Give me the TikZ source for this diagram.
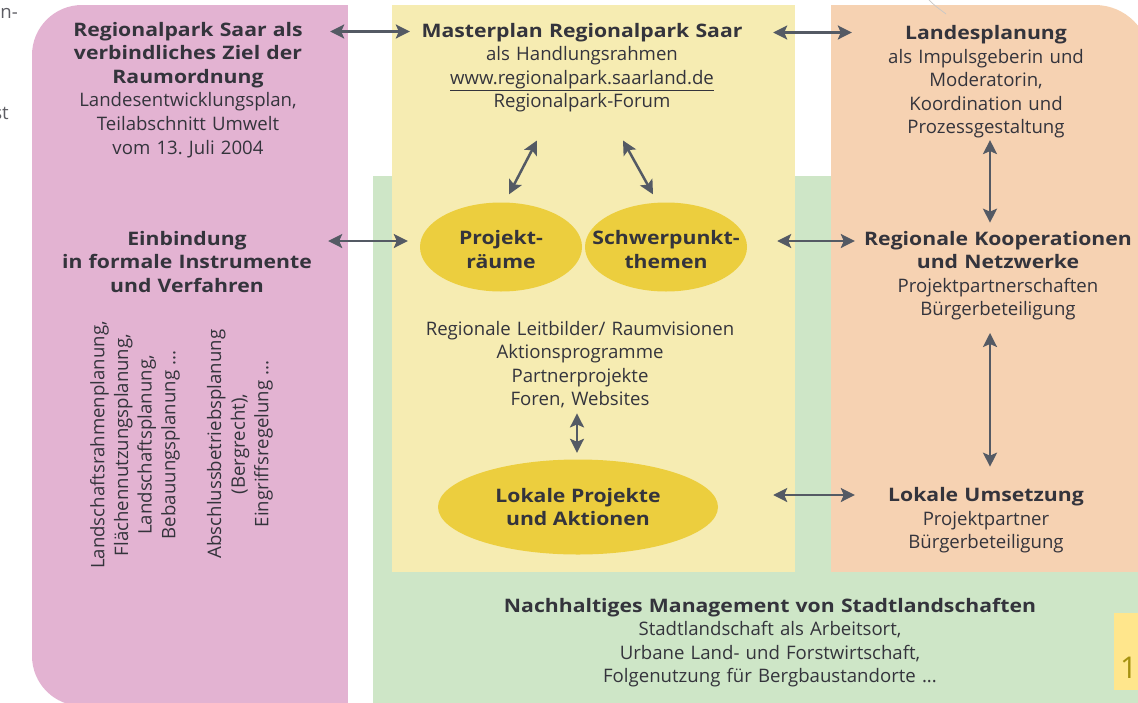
\documentclass[tikz,border=0pt]{standalone}
\usepackage{fontspec}
\setmainfont{Open Sans}[BoldFeatures={FakeStretch=1.14}]
\usetikzlibrary{arrows.meta,shapes.geometric}
\frenchspacing

\definecolor{pinkbg}{RGB}{227,179,210}
\definecolor{yellowbg}{RGB}{246,236,178}
\definecolor{orangebg}{RGB}{246,210,178}
\definecolor{greenbg}{RGB}{206,230,199}
\definecolor{gold}{RGB}{236,206,62}
\definecolor{ink}{RGB}{52,52,60}
\definecolor{arrowc}{RGB}{84,90,100}
\definecolor{tagyellow}{RGB}{255,230,140}
\definecolor{tagink}{RGB}{165,145,15}

\begin{document}
\begin{tikzpicture}[
  x=1pt, y=-1pt,
  every node/.style={text=ink, inner sep=0pt, font=\fontsize{18.6}{23.6}\selectfont},
  body/.style={align=center, anchor=base},
  head/.style={font=\fontsize{18.6}{23.6}\selectfont\bfseries},
  blob/.style={ellipse, fill=gold, minimum width=162pt, minimum height=89pt},
  link/.style={{Stealth[length=14pt,width=14pt,inset=3pt]}-{Stealth[length=14pt,width=14pt,inset=3pt]},
               line width=2.5pt, draw=arrowc},
]

% ---------- frame ----------
\useasboundingbox (0,0) rectangle (1138,702);
\clip (0,0) rectangle (1138,702);

% ---------- panels ----------
\fill[greenbg] (373,176) rectangle (1140,704);
\fill[pinkbg, rounded corners=50pt] (32,5) rectangle (200,706);
\fill[pinkbg] (150,5) rectangle (348,706);
\fill[yellowbg] (392,5) rectangle (795,572);
\fill[orangebg] (831,5) rectangle (1000,572);
\fill[orangebg, rounded corners=55pt] (950,5) rectangle (1150,300);
\fill[orangebg] (950,150) rectangle (1150,572);

% page tag and cut-off words at the edges
\fill[tagyellow] (1114,613) rectangle (1140,690);
\node[text=tagink, font=\fontsize{30}{30}\selectfont, anchor=base west] (page) at (1120,678) {16};
\node[text=ink!80, anchor=base east] (fragA) at (18,18) {n-};
\node[text=ink!80, anchor=base east] (fragB) at (9,119) {st};
\draw[black!22, line width=0.7pt] (927,-2) .. controls (934,5) .. (946,14);

% ---------- left column ----------
\node[body, text width=284pt] (ziel) at (188,36)
  {\textbf{Regionalpark Saar als}\\\textbf{verbindliches Ziel der}\\\textbf{Raumordnung}\\
   Landesentwicklungsplan,\\Teilabschnitt Umwelt\\vom 13. Juli 2004};
\node[body, head, text width=282pt] (einb) at (187,245)
  {Einbindung\\in formale Instrumente\\und Verfahren};
\node[align=center, rotate=90] (plan1) at (135,445)
  {Landschaftsrahmenplanung,\\Flächennutzungsplanung,\\Landschaftsplanung,\\Bebauungsplanung ...};
\node[align=center, rotate=90] (plan2) at (240,444)
  {Abschlussbetriebsplanung\\(Bergrecht),\\Eingriffsregelung ...};

% ---------- middle column ----------
\node[body, text width=344pt] (master) at (582,37)
  {\textbf{Masterplan Regionalpark Saar}\\als Handlungsrahmen\\
   \underline{www.regionalpark.saarland.de}\\Regionalpark-Forum};

\node[blob] (raeume) at (501,247) {};
\node[blob] (schwer) at (666,247) {};
\node[head, align=center] (raeumeTxt) at ([yshift=-2.5pt]raeume.center) {Projekt-\\räume};
\node[head, align=center] (schwerTxt) at ([yshift=-2.5pt]schwer.center) {Schwerpunkt-\\themen};

\node[body, text width=340pt] (leit) at (580,335)
  {Regionale Leitbilder/ Raumvisionen\\Aktionsprogramme\\Partnerprojekte\\Foren, Websites};

\node[blob, minimum width=280pt, minimum height=95pt] (lokal) at (578,507) {};
\node[head, align=center] (lokalTxt) at (lokal) {Lokale Projekte\\und Aktionen};

% ---------- right column ----------
\node[body, text width=268pt] (landes) at (986,39.5)
  {\textbf{Landesplanung}\\als Impulsgeberin und\\Moderatorin,\\Koordination und\\Prozessgestaltung};
\node[body, text width=286pt] (koop) at (998,245)
  {\textbf{Regionale Kooperationen}\\\textbf{und Netzwerke}\\Projektpartnerschaften\\Bürgerbeteiligung};
\node[body, text width=262pt] (umsetz) at (986,501.5)
  {\textbf{Lokale Umsetzung}\\Projektpartner\\Bürgerbeteiligung};

% ---------- bottom band ----------
\node[body, text width=600pt] (nachh) at (770,612)
  {\textbf{Nachhaltiges Management von Stadtlandschaften}\\Stadtlandschaft als Arbeitsort,\\
   Urbane Land- und Forstwirtschaft,\\Folgenutzung für Bergbaustandorte ...};

% ---------- links ----------
% across the columns
\draw[link] ([yshift=4.5pt]ziel.base east) -- ([yshift=4.5pt]ziel.base east -| master.west);
\draw[link] ([xshift=19pt,yshift=4.5pt]master.base east) -- ([yshift=4.5pt]master.base east -| landes.west);
\draw[link, shorten >=12pt] ([yshift=4pt]einb.base east) -- ([yshift=4pt]einb.base east -| raeume.west);
\draw[link, shorten <=30pt] ([yshift=4pt]koop.base west -| schwer.east) -- ([yshift=4pt]koop.base west);
\draw[link, shorten <=55pt] ([yshift=6.5pt]umsetz.base west -| lokal.east) -- ([yshift=6.5pt]umsetz.base west);

% inside the masterplan
\draw[link] ([shift={(-45pt,-28pt)}]master.south) -- ([shift={(8pt,8pt)}]raeume.north);
\draw[link] ([shift={(41pt,-28pt)}]master.south) -- ([shift={(-13pt,8pt)}]schwer.north);
\draw[link, shorten <=5pt, shorten >=6.5pt] ([xshift=-3pt]leit.south) -- ([xshift=-3pt]leit.south |- lokal.north);

% down the right column
\draw[link, shorten <=1.5pt, shorten >=8pt] ([xshift=4pt]landes.south) -- ([xshift=4pt]landes.south |- koop.north);
\draw[link, shorten <=12.5pt, shorten >=20.5pt] ([xshift=-8pt]koop.south) -- ([xshift=-8pt]koop.south |- umsetz.north);

\end{tikzpicture}
\end{document}
